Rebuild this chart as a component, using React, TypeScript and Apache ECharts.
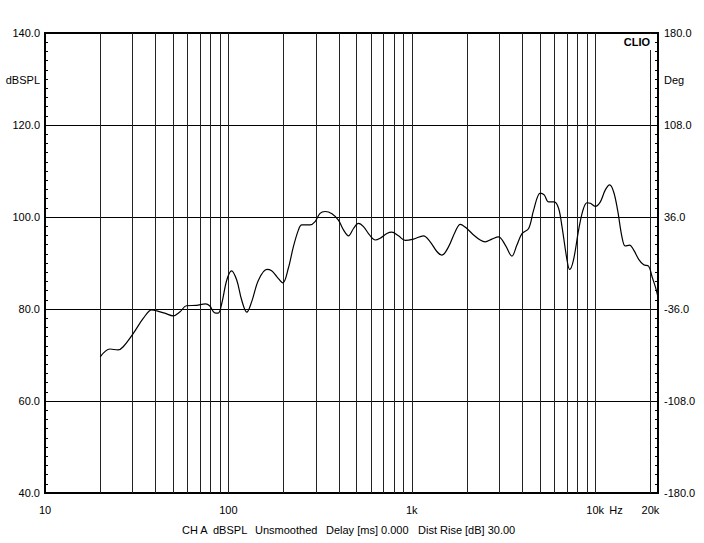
import React, { useEffect, useRef } from "react";
import * as echarts from "echarts";

const freqs = [
  20, 22.6, 25, 26.7, 30.3, 34.4, 38.2, 40.7, 45, 50, 54.5, 59, 67, 75, 79, 84, 88, 92, 98, 104,
  111, 118, 126, 134, 146, 162, 172, 184, 198, 212, 226, 241, 251, 279, 297, 316, 337, 367, 398,
  424, 452, 481, 512, 545, 588, 631, 672, 731, 778, 846, 920, 1022, 1158, 1260, 1370, 1459, 1585,
  1725, 1837, 1996, 2172, 2361, 2512, 2733, 2972, 3234, 3516, 3742, 3988, 4336, 4616, 5012, 5272,
  5567, 5984, 6314, 6591, 7018, 7254, 7617, 8123, 8577, 9017, 9400, 10000, 10666, 11356, 11990,
  12600, 13250, 13990, 14590, 15400, 16220, 17270, 18380, 19570, 20420, 21290, 22000,
];
const spl = [
  69.6, 71.3, 71.1, 71.8, 74.7, 78.0, 79.8, 79.6, 79.1, 78.5, 79.4, 80.7, 80.8, 81.1, 80.7, 79.2,
  79.1, 81.2, 86.3, 88.3, 86.3, 82.0, 79.3, 81.6, 86.3, 88.6, 88.3, 87.0, 85.7, 88.8, 93.5, 97.2,
  98.3, 98.3, 99.0, 100.8, 101.2, 100.7, 99.3, 97.2, 95.9, 97.5, 98.6, 97.9, 96.1, 95.0, 95.4,
  96.4, 96.7, 95.9, 94.9, 95.2, 95.9, 94.6, 92.5, 91.7, 93.5, 96.8, 98.4, 97.5, 96.1, 95.0, 94.6,
  95.2, 95.7, 93.9, 91.5, 93.9, 96.4, 97.5, 101.5, 105.2, 104.8, 103.3, 103.3, 101.9, 97.9, 90.7,
  88.6, 90.7, 97.2, 101.5, 103.1, 103.0, 102.3, 103.3, 105.9, 107.0, 105.5, 101.5, 95.7, 93.7,
  93.9, 92.8, 90.8, 89.6, 89.3, 87.0, 84.8, 82.6,
];

const gridFreqs = [
  20, 30, 40, 50, 60, 70, 80, 90, 200, 300, 400, 500, 600, 700, 800, 900, 2000, 3000, 4000, 5000,
  6000, 7000, 8000, 9000,
];
const labeledGridFreq = 20000;
const labeledGridText = "20k";

const xMin = 10;
const xMax = 22000;
const splMin = 40;
const splMax = 140;
const splStep = 20;
const degMin = -180;
const degMax = 180;
const degStep = 72;

const footerParts = [
  { text: "CH A", x: 182 },
  { text: "dBSPL", x: 213 },
  { text: "Unsmoothed", x: 255 },
  { text: "Delay [ms] 0.000", x: 326 },
  { text: "Dist Rise [dB] 30.00", x: 418 },
];

const FONT = "'Liberation Sans', Arial, sans-serif";

export default function App() {
  const ref = useRef<HTMLDivElement>(null);
  useEffect(() => {
    if (!ref.current) return;
    const chart = echarts.init(ref.current, null, { renderer: "svg" });
    const data = freqs.map((f, i) => [f, spl[i]]);
    const fmtFreq = (v: number) => {
      const l = Math.log10(v);
      if (Math.abs(l - Math.round(l)) > 1e-6) return "";
      const r = Math.round(Math.pow(10, Math.round(l)));
      if (r >= 1000) return r / 1000 + "k";
      return String(r);
    };
    const textStyle = { fontFamily: FONT, fontSize: 11, color: "#000" };
    chart.setOption({
      animation: false,
      backgroundColor: "#fff",
      grid: {
        left: 45,
        right: 46,
        top: 33,
        bottom: 50,
        show: true,
        borderColor: "#000",
        borderWidth: 2,
        backgroundColor: "#fff",
      },
      xAxis: {
        type: "log",
        logBase: 10,
        min: xMin,
        max: xMax,
        axisLine: { show: false },
        axisTick: { show: false },
        axisLabel: {
          formatter: fmtFreq,
          margin: 11,
          ...textStyle,
        },
        splitLine: { show: true, lineStyle: { color: "#222", width: 1 } },
      },
      yAxis: [
        {
          type: "value",
          min: splMin,
          max: splMax,
          interval: splStep,
          position: "left",
          axisLine: { show: true, lineStyle: { color: "#000", width: 2 } },
          axisTick: { show: true, inside: true, length: 3, lineStyle: { color: "#000" } },
          minorTick: { show: true, splitNumber: 10, length: 3, lineStyle: { color: "#000" } },
          axisLabel: { formatter: (v: number) => v.toFixed(1), margin: 5, ...textStyle },
          splitLine: { show: true, lineStyle: { color: "#000", width: 1 } },
        },
        {
          type: "value",
          min: degMin,
          max: degMax,
          interval: degStep,
          position: "right",
          axisLine: { show: true, lineStyle: { color: "#000", width: 2 } },
          axisTick: { show: true, inside: true, length: 3, lineStyle: { color: "#000" } },
          minorTick: { show: true, splitNumber: 10, length: 3, lineStyle: { color: "#000" } },
          axisLabel: { formatter: (v: number) => v.toFixed(1), margin: 6, ...textStyle },
          splitLine: { show: false },
        },
      ],
      series: [
        {
          type: "line",
          data,
          smooth: 0.35,
          symbol: "none",
          lineStyle: { color: "#000", width: 1.2 },
          z: 5,
          markLine: {
            silent: true,
            symbol: "none",
            animation: false,
            lineStyle: { color: "#222", width: 1, type: "solid" },
            label: { show: false },
            emphasis: { disabled: true },
            data: [
              ...gridFreqs.map((f) => ({ xAxis: f })),
              {
                xAxis: labeledGridFreq,
                label: {
                  show: true,
                  position: "start",
                  distance: 11,
                  formatter: labeledGridText,
                  ...textStyle,
                },
              },
            ],
          },
        },
      ],
      graphic: [
        {
          type: "text",
          x: 40,
          y: 80,
          z: 100,
          style: { text: "dBSPL", align: "right", verticalAlign: "middle", font: `11px ${FONT}`, fill: "#000" },
        },
        {
          type: "text",
          x: 664,
          y: 80,
          z: 100,
          style: { text: "Deg", align: "left", verticalAlign: "middle", font: `11px ${FONT}`, fill: "#000" },
        },
        {
          type: "text",
          x: 651,
          y: 42,
          z: 100,
          style: {
            text: "CLIO",
            align: "right",
            verticalAlign: "middle",
            font: `bold 11px ${FONT}`,
            fill: "#000",
            backgroundColor: "#fff",
            padding: [2, 1, 3, 2],
          },
        },
        {
          type: "text",
          x: 616,
          y: 510,
          z: 100,
          style: { text: "Hz", align: "center", verticalAlign: "middle", font: `11px ${FONT}`, fill: "#000" },
        },
        ...footerParts.map((p) => ({
          type: "text",
          x: p.x,
          y: 530,
          z: 100,
          style: { text: p.text, align: "left", verticalAlign: "middle", font: `11px ${FONT}`, fill: "#000" },
        })),
      ],
    });
    return () => chart.dispose();
  }, []);
  return (
    <div
      ref={ref}
      style={{ position: "fixed", left: 0, top: 0, width: 704, height: 543, background: "#fff" }}
    />
  );
}
